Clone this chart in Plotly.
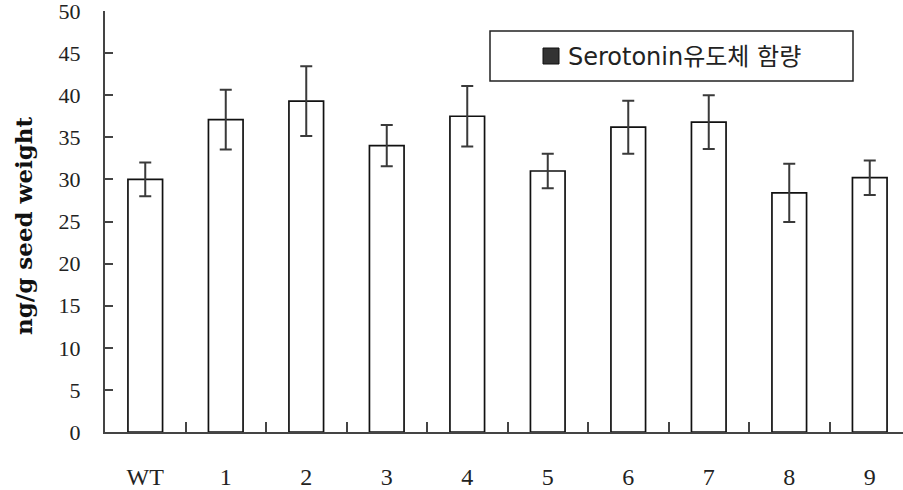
import plotly.graph_objects as go

# Serotonin derivative content per line (ng/g seed weight), mean and error
lines = ["WT", "1", "2", "3", "4", "5", "6", "7", "8", "9"]
content = [30.0, 37.1, 39.3, 34.0, 37.5, 31.0, 36.2, 36.8, 28.4, 30.2]
err = [2.0, 3.55, 4.15, 2.45, 3.6, 2.05, 3.15, 3.2, 3.45, 2.05]
y_ticks = [0, 5, 10, 15, 20, 25, 30, 35, 40, 45, 50]
legend_label = "Serotonin유도체 함량"
y_title = "ng/g seed weight"

W, H = 903, 490
ML, MR, MT, MB = 105, 0, 11, 58
PW, PH = W - ML - MR, H - MT - MB


def px_x(p):
    return (p - ML) / PW


def px_y(p):
    return (H - MB - p) / PH


fig = go.Figure()
fig.add_trace(go.Bar(
    x=lines, y=content,
    marker=dict(color="white", line=dict(color="#111111", width=1.7)),
    error_y=dict(type="data", array=err, visible=True,
                 color="#3a3a3a", thickness=2, width=6),
    showlegend=False,
))

fig.update_layout(
    width=W, height=H,
    margin=dict(l=ML, r=MR, t=MT, b=MB, pad=0),
    paper_bgcolor="white", plot_bgcolor="white",
    bargap=0.57,
    xaxis=dict(
        type="category", range=[-0.5, 9.413],
        showline=True, linecolor="#444444", linewidth=2,
        ticks="inside", tickson="boundaries", ticklen=10, tickwidth=1.5,
        tickcolor="#444444", showgrid=False, zeroline=False,
        tickfont=dict(family="Liberation Serif, Times New Roman, serif", size=24, color="#222222"),
        ticklabelstandoff=22,
    ),
    yaxis=dict(
        range=[0, 50], tickvals=y_ticks,
        showline=True, linecolor="#444444", linewidth=2,
        ticks="inside", ticklen=8, tickwidth=1.5, tickcolor="#444444",
        showgrid=False, zeroline=False, ticklabeloverflow="allow",
        tickfont=dict(family="Liberation Serif, Times New Roman, serif", size=22, color="#222222"),
        ticklabelstandoff=18,
    ),
)

# axis title
fig.add_annotation(
    text=y_title, xref="paper", yref="paper",
    x=px_x(24), y=px_y(226), xanchor="center", yanchor="middle",
    textangle=-90, showarrow=False,
    font=dict(family="DejaVu Serif, serif", size=23, color="#111111", weight="bold"),
)

# legend box with swatch and label
fig.add_shape(type="rect", xref="paper", yref="paper",
              x0=px_x(490), x1=px_x(853), y0=px_y(81), y1=px_y(31),
              line=dict(color="#222222", width=1.5), fillcolor="white")
fig.add_shape(type="rect", xref="paper", yref="paper",
              x0=px_x(543), x1=px_x(559), y0=px_y(64), y1=px_y(48),
              line=dict(color="#111111", width=1), fillcolor="#333333")
fig.add_annotation(
    text=legend_label, xref="paper", yref="paper",
    x=px_x(566), y=px_y(57), xanchor="left", yanchor="middle", showarrow=False,
    font=dict(family="DejaVu Sans, Noto Sans CJK KR, sans-serif", size=24, color="#222222"),
)

fig.write_html("out.html")
